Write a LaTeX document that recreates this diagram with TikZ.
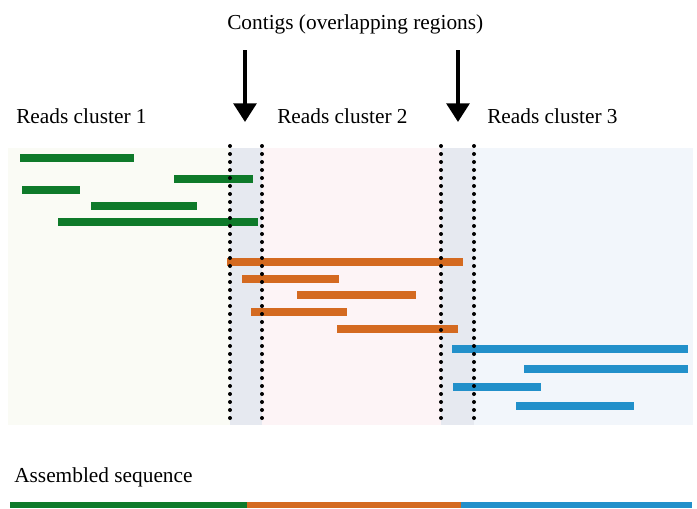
\documentclass[tikz,border=0pt]{standalone}
\usepackage{fontspec}
\setmainfont{Liberation Serif}
\usetikzlibrary{arrows.meta}
\definecolor{readgreen}{RGB}{14,122,42}
\definecolor{readorange}{RGB}{212,106,32}
\definecolor{readblue}{RGB}{34,144,202}
\definecolor{bgone}{RGB}{250,251,245}
\definecolor{bgtwo}{RGB}{253,244,246}
\definecolor{bgthree}{RGB}{242,246,251}
\definecolor{bgcontig}{RGB}{230,233,240}
\tikzset{
  lbl/.style={anchor=base west,inner sep=0pt,font=\fontsize{16pt}{18pt}\selectfont},
  border/.style={line width=3pt,dash pattern=on 0pt off 6pt,line cap=round},
  downarrow/.style={line width=3pt,-{Triangle[width=17pt,length=14pt]}}
}
\begin{document}
\begin{tikzpicture}[x=0.75pt,y=-0.75pt]
\useasboundingbox (0,0) rectangle (697,508);
\fill[bgone] (8,148) rectangle (230,425);		%cluster 1
\fill[bgcontig] (230,148) rectangle (262,425);	%contig 1
\fill[bgtwo] (262,148) rectangle (441,425);		%cluster 2
\fill[bgcontig] (441,148) rectangle (474,425);	%contig 2
\fill[bgthree] (474,148) rectangle (693,425);	%cluster 3
\fill[readgreen] (20,154) rectangle (134,162);
\fill[readgreen] (174,175) rectangle (253,183);
\fill[readgreen] (22,186) rectangle (80,194);
\fill[readgreen] (91,202) rectangle (197,210);
\fill[readgreen] (58,218) rectangle (258,226);
\fill[readorange] (227,258) rectangle (463,266);
\fill[readorange] (242,275) rectangle (339,283);
\fill[readorange] (297,291) rectangle (416,299);
\fill[readorange] (251,308) rectangle (347,316);
\fill[readorange] (337,325) rectangle (458,333);
\fill[readblue] (452,345) rectangle (688,353);
\fill[readblue] (524,365) rectangle (688,373);
\fill[readblue] (453,383) rectangle (541,391);
\fill[readblue] (516,402) rectangle (634,410);
\draw[border] (230,146) -- (230,424);
\draw[border] (262,146) -- (262,424);
\draw[border] (441,146) -- (441,424);
\draw[border] (474,146) -- (474,424);
\fill[readgreen] (10,502) rectangle (247,508);	%assembled
\fill[readorange] (247,502) rectangle (461,508);
\fill[readblue] (461,502) rectangle (692,508);
\node[lbl] (contigs) at (227,29) {Contigs (overlapping regions)};
\node[lbl] (clone) at (16,123) {Reads cluster 1};
\node[lbl] (cltwo) at (277,123) {Reads cluster 2};
\node[lbl] (clthree) at (487,123) {Reads cluster 3};
\node[lbl] (asm) at (14,482) {Assembled sequence};
\coordinate (aones) at (245,50);
\coordinate (aonee) at (245,122);
\coordinate (atwos) at (458,50);
\coordinate (atwoe) at (458,122);
\draw[downarrow] (aones) -- (aonee);
\draw[downarrow] (atwos) -- (atwoe);
\end{tikzpicture}
\end{document}
